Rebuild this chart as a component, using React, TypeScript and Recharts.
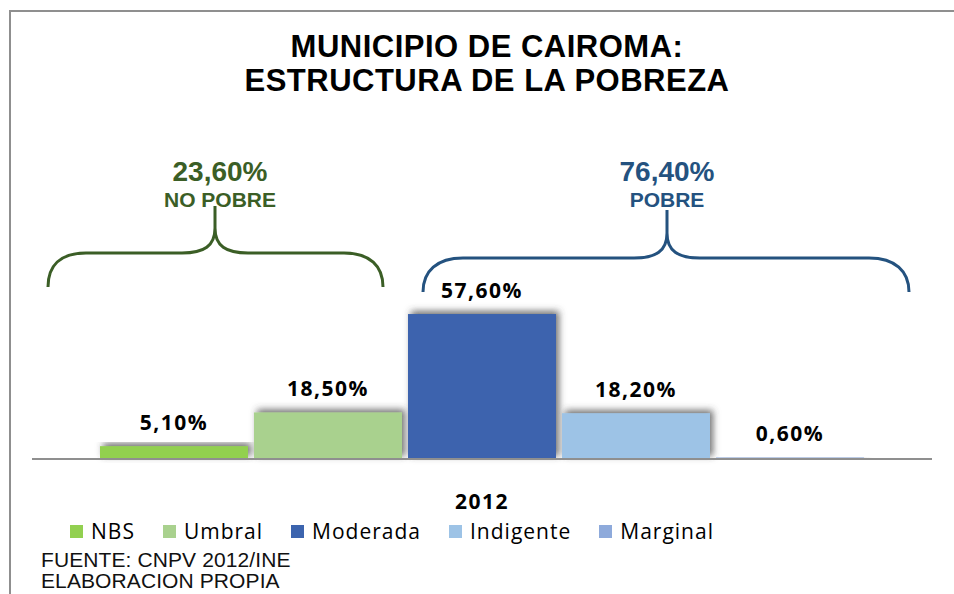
import React from 'react'
import { BarChart, Bar, XAxis, YAxis, LabelList } from 'recharts'

const categories = ['2012']
const seriesNames = ['NBS', 'Umbral', 'Moderada', 'Indigente', 'Marginal']
const seriesValues = [5.1, 18.5, 57.6, 18.2, 0.6]
const seriesColors = ['#92d050', '#a9d18e', '#3c64ae', '#9dc3e6', '#8eaadb']

const groupNames = ['NO POBRE', 'POBRE']
const groupTotals = [23.6, 76.4]
const groupColors = ['#3b5e26', '#24527f']

const titleLines = ['MUNICIPIO DE CAIROMA:', 'ESTRUCTURA DE LA POBREZA']
const sourceLines = ['FUENTE: CNPV 2012/INE', 'ELABORACION PROPIA']

const data = categories.map((year) => {
  const row: Record<string, string | number> = { year }
  seriesNames.forEach((name, i) => { row[name] = seriesValues[i] })
  return row
})

const fmt = (v: number) => v.toFixed(2).replace('.', ',') + '%'

const labelFont = '"Open Sans", sans-serif'
const arial = '"Liberation Sans", Arial, sans-serif'

// sombra de las barras (arriba a la derecha, como en Excel)
const ShadowBar = (props: any) => {
  const { x, y, width, height, fill } = props
  if (height <= 0) return null
  return <rect x={x} y={y} width={width} height={height} fill={fill} filter="url(#barShadow)" />
}

const YearTick = ({ x, y, payload }: any) => (
  <text x={x} y={y + 42} textAnchor="middle" fill="#000" fontFamily={labelFont}
    fontWeight={700} fontSize={21} letterSpacing={1.5}>
    {payload.value}
  </text>
)

// llaves que agrupan NO POBRE / POBRE
const bracePaths = [
  'M48,287 C48,266 60,253 86,253 L182,253 C204,253 215,246 215,228 L215,206 M215,228 C215,246 226,253 248,253 L344,253 C370,253 383,266 383,287',
  'M423,292 C423,271 437,258 463,258 L634,258 C656,258 667,251 667,233 L667,210 M667,233 C667,251 678,258 700,258 L869,258 C895,258 909,271 909,292',
]
const groupCenters = [220, 667]

export default function App() {
  return (
    <div style={{ position: 'absolute', left: 0, top: 0, width: 954, height: 594, background: '#fff', overflow: 'hidden' }}>
      <svg width={0} height={0} style={{ position: 'absolute' }}>
        <defs>
          <filter id="barShadow" x="-10%" y="-30%" width="130%" height="160%">
            <feDropShadow dx={3} dy={-3} stdDeviation={3.5} floodColor="#404040" floodOpacity={0.75} />
          </filter>
        </defs>
      </svg>

      <div style={{ position: 'absolute', left: 9, top: 10, width: 960, height: 600, borderTop: '2px solid #8f8f8f', borderLeft: '2px solid #8f8f8f' }} />

      <div style={{ position: 'absolute', left: 10, top: 30, width: 954, textAlign: 'center', fontFamily: arial, fontWeight: 700, fontSize: 31, lineHeight: '34px', letterSpacing: 0.5, color: '#000' }}>
        {titleLines.map((t) => <div key={t}>{t}</div>)}
      </div>

      <BarChart width={954} height={594} data={data} barSize={148} barGap={6}
        margin={{ top: 308, right: 22, bottom: 95, left: 32 }} style={{ position: 'absolute', left: 0, top: 0 }}>
        <XAxis dataKey="year" height={40} axisLine={{ stroke: '#8f8f8f', strokeWidth: 2 }} tickLine={false} tick={<YearTick />} />
        <YAxis hide domain={[0, 60]} />
        {seriesNames.map((name, i) => (
          <Bar key={name} dataKey={name} fill={seriesColors[i]} shape={<ShadowBar />} isAnimationActive={false}>
            <LabelList dataKey={name} position="top" offset={16} formatter={(v: any) => fmt(Number(v))}
              fill="#000" fontFamily={labelFont} fontWeight={700} fontSize={21} letterSpacing={1.5} />
          </Bar>
        ))}
      </BarChart>

      <svg width={954} height={594} style={{ position: 'absolute', left: 0, top: 0, pointerEvents: 'none' }}>
        {bracePaths.map((d, i) => (
          <path key={i} d={d} fill="none" stroke={groupColors[i]} strokeWidth={3} strokeLinecap="butt" />
        ))}
        {groupNames.map((g, i) => (
          <g key={g} fill={groupColors[i]} fontFamily={arial} fontWeight={700} textAnchor="middle">
            <text x={groupCenters[i]} y={181} fontSize={28}>{fmt(groupTotals[i])}</text>
            <text x={groupCenters[i]} y={207} fontSize={21}>{g}</text>
          </g>
        ))}
      </svg>

      <div style={{ position: 'absolute', left: 70, top: 517, display: 'flex', alignItems: 'center', fontFamily: labelFont, fontSize: 21, letterSpacing: 1, color: '#000' }}>
        {seriesNames.map((name, i) => (
          <div key={name} style={{ display: 'flex', alignItems: 'center', marginRight: 28 }}>
            <span style={{ width: 13, height: 13, background: seriesColors[i], marginRight: 8, display: 'inline-block' }} />
            <span>{name}</span>
          </div>
        ))}
      </div>

      <div style={{ position: 'absolute', left: 41, top: 549, fontFamily: arial, fontSize: 21, lineHeight: '21px', letterSpacing: 0.1, color: '#111' }}>
        {sourceLines.map((t) => <div key={t}>{t}</div>)}
      </div>
    </div>
  )
}
